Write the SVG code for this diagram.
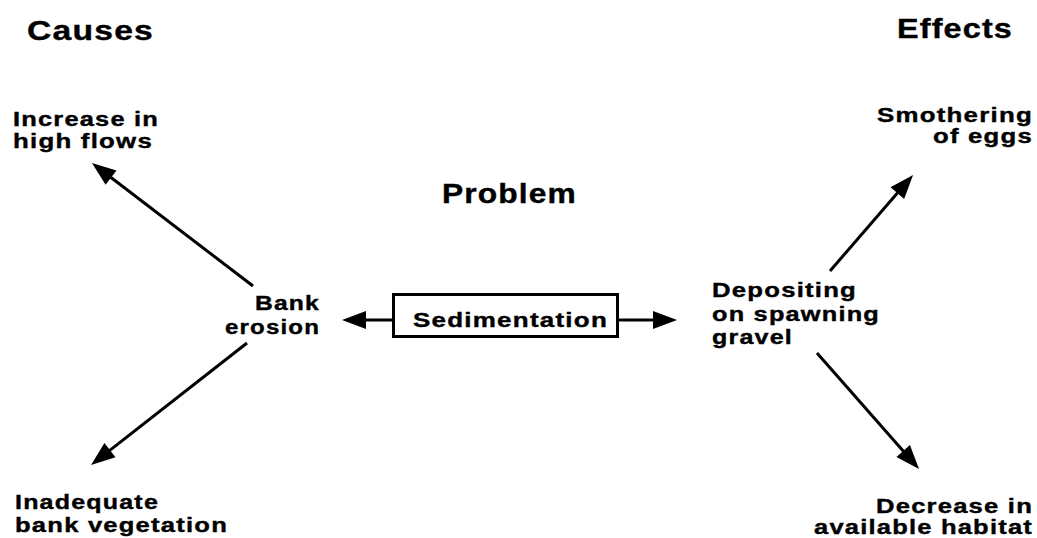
<svg xmlns="http://www.w3.org/2000/svg" width="1037" height="538" viewBox="0 0 1037 538">
<style>
text{font-family:"Liberation Sans",Arial,sans-serif;font-weight:bold;fill:#000;stroke:#000;stroke-width:0.4;letter-spacing:1px}
.h{font-size:28px}
.l{font-size:21px}
.c{stroke:#000;stroke-width:3;fill:none;marker-end:url(#ah)}
</style>
<defs>
<marker id="ah" markerUnits="userSpaceOnUse" markerWidth="26" markerHeight="20" refX="12" refY="9" orient="auto" overflow="visible">
<path d="M0,0 L24,9 L0,18 Z" fill="#000"/>
</marker>
</defs>
<rect width="1037" height="538" fill="#fff"/>
<g id="headers">
<text class="h" x="27" y="40" textLength="127" lengthAdjust="spacingAndGlyphs">Causes</text>
<text class="h" x="897" y="38" textLength="116" lengthAdjust="spacingAndGlyphs">Effects</text>
<text class="h" x="442" y="203" textLength="135" lengthAdjust="spacingAndGlyphs">Problem</text>
</g>
<g id="connectors">
<line class="c" x1="253" y1="286" x2="101.5" y2="170.3"/>
<line class="c" x1="247" y1="343" x2="100.5" y2="457.6"/>
<line class="c" x1="830" y1="271" x2="905.2" y2="184.1"/>
<line class="c" x1="817" y1="353" x2="911.1" y2="460"/>
<line class="c" x1="393" y1="320" x2="354" y2="320"/>
<line class="c" x1="618" y1="320" x2="665" y2="320"/>
</g>
<g id="sedimentation">
<rect x="393.5" y="294.5" width="224" height="42" fill="#fff" stroke="#000" stroke-width="3"/>
<text class="l" x="413" y="327" textLength="195" lengthAdjust="spacingAndGlyphs">Sedimentation</text>
</g>
<g id="bank-erosion">
<text class="l" x="255" y="310" textLength="65" lengthAdjust="spacingAndGlyphs">Bank</text>
<text class="l" x="225" y="334" textLength="95" lengthAdjust="spacingAndGlyphs">erosion</text>
</g>
<g id="increase-high-flows">
<text class="l" x="13" y="126" textLength="146" lengthAdjust="spacingAndGlyphs">Increase in</text>
<text class="l" x="13" y="148" textLength="140" lengthAdjust="spacingAndGlyphs">high flows</text>
</g>
<g id="inadequate-vegetation">
<text class="l" x="15" y="509" textLength="144" lengthAdjust="spacingAndGlyphs">Inadequate</text>
<text class="l" x="15" y="532" textLength="213" lengthAdjust="spacingAndGlyphs">bank vegetation</text>
</g>
<g id="depositing">
<text class="l" x="712" y="297" textLength="145" lengthAdjust="spacingAndGlyphs">Depositing</text>
<text class="l" x="712" y="321" textLength="168" lengthAdjust="spacingAndGlyphs">on spawning</text>
<text class="l" x="712" y="344" textLength="81" lengthAdjust="spacingAndGlyphs">gravel</text>
</g>
<g id="smothering">
<text class="l" x="877" y="122" textLength="156" lengthAdjust="spacingAndGlyphs">Smothering</text>
<text class="l" x="933" y="143" textLength="100" lengthAdjust="spacingAndGlyphs">of eggs</text>
</g>
<g id="decrease-habitat">
<text class="l" x="876" y="513" textLength="157" lengthAdjust="spacingAndGlyphs">Decrease in</text>
<text class="l" x="814" y="534" textLength="219" lengthAdjust="spacingAndGlyphs">available habitat</text>
</g>
</svg>
